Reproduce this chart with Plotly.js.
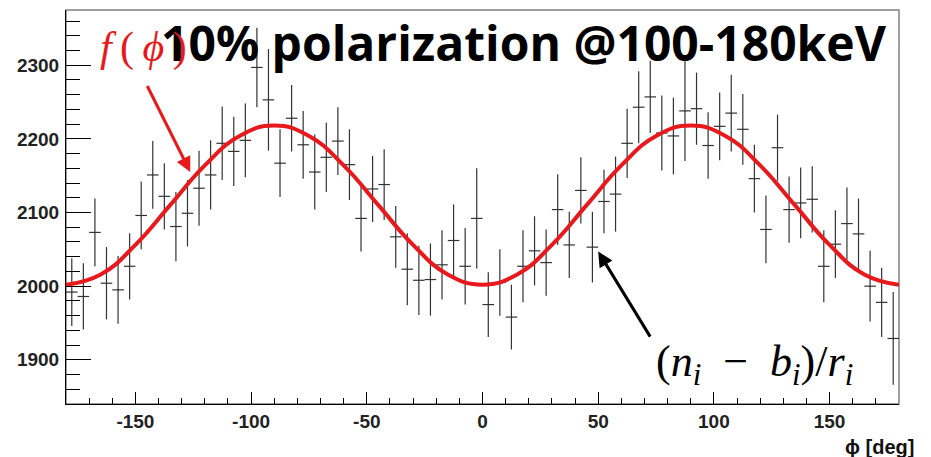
<!DOCTYPE html>
<html>
<head>
<meta charset="utf-8">
<script src="https://cdn.plot.ly/plotly-3.0.1.min.js"></script>
<style>
  html, body { margin: 0; padding: 0; background: #ffffff; }
  #chart { width: 931px; height: 457px; }
</style>
</head>
<body>
<div id="chart"></div>
<script>
// Azimuthal scattering angle, 5-degree bin centres
const phiBins = [
  -177.5, -172.5, -167.5, -162.5, -157.5, -152.5, -147.5, -142.5, -137.5, -132.5, -127.5, -122.5,
  -117.5, -112.5, -107.5, -102.5, -97.5, -92.5, -87.5, -82.5, -77.5, -72.5, -67.5, -62.5,
  -57.5, -52.5, -47.5, -42.5, -37.5, -32.5, -27.5, -22.5, -17.5, -12.5, -7.5, -2.5,
  2.5, 7.5, 12.5, 17.5, 22.5, 27.5, 32.5, 37.5, 42.5, 47.5, 52.5, 57.5,
  62.5, 67.5, 72.5, 77.5, 82.5, 87.5, 92.5, 97.5, 102.5, 107.5, 112.5, 117.5,
  122.5, 127.5, 132.5, 137.5, 142.5, 147.5, 152.5, 157.5, 162.5, 167.5, 172.5, 177.5
];

// Background-subtracted, response-corrected counts (n_i - b_i)/r_i
const correctedCounts = [
  1992, 1986, 2073, 2004, 1995, 2027, 2096, 2151, 2122, 2081, 2099, 2133,
  2151, 2194, 2183, 2198, 2297, 2253, 2167, 2228, 2192, 2155, 2175, 2197,
  2165, 2092, 2132, 2138, 2067, 2023, 2008, 2009, 2029, 2062, 2027, 2092,
  1975, 2005, 1958, 2027, 2048, 2032, 2104, 2056, 2130, 2053, 2115, 2125,
  2194, 2243, 2257, 2208, 2204, 2238, 2241, 2191, 2217, 2235, 2213, 2146,
  2077, 2188, 2104, 2113, 2118, 2027, 2057, 2085, 2071, 2000, 1978, 1929
];

// Statistical uncertainty per bin
const countErrors = [
  46, 45, 46, 49, 46, 45, 46, 46, 45, 47, 45, 51,
  47, 50, 47, 50, 54, 69, 46, 45, 46, 51, 47, 46,
  48, 45, 45, 48, 42, 49, 47, 49, 47, 49, 52, 68,
  44, 45, 44, 49, 47, 45, 48, 45, 45, 48, 43, 51,
  47, 49, 49, 51, 52, 68, 49, 45, 46, 52, 48, 46,
  46, 45, 45, 48, 45, 49, 46, 49, 48, 48, 47, 63
];

// Half of the 5-degree bin width
const binHalfWidth = 2.5;

// Fitted modulation curve f(phi), sampled every 15 degrees
const fitPhi = [
  -180, -165, -150, -135, -120, -105, -90, -75, -60, -45, -30, -15, 0,
  15, 30, 45, 60, 75, 90, 105, 120, 135, 150, 165, 180
];
const fitValues = [
  2002, 2016, 2056, 2110, 2164, 2204, 2218, 2204, 2164, 2110, 2056, 2016, 2002,
  2016, 2056, 2110, 2164, 2204, 2218, 2204, 2164, 2110, 2056, 2016, 2002
];

// Axis tick values and labels (plain hyphen for negatives)
const xTickVals = [-150, -100, -50, 0, 50, 100, 150];
const xTickText = ['-150', '-100', '-50', '0', '50', '100', '150'];
const yTickVals = [1900, 2000, 2100, 2200, 2300];
const yTickText = ['1900', '2000', '2100', '2200', '2300'];

const titleText = '10% polarization @100-180keV';
const xTitleText = '\u03D5 [deg]';

const tickFont = { family: 'Liberation Sans, Arial, sans-serif', size: 19, color: '#222222', weight: 700 };

const dataTrace = {
  type: 'scatter',
  mode: 'markers',
  x: phiBins,
  y: correctedCounts,
  marker: { size: 1, color: '#333333' },
  error_y: { type: 'data', array: countErrors, visible: true, width: 0, thickness: 1.2, color: '#333333' },
  error_x: { type: 'constant', value: binHalfWidth, visible: true, width: 0, thickness: 1.2, color: '#333333' },
  hoverinfo: 'x+y',
  showlegend: false
};

const fitTrace = {
  type: 'scatter',
  mode: 'lines',
  x: fitPhi,
  y: fitValues,
  line: { color: '#e8191c', width: 4, shape: 'spline', smoothing: 1.3 },
  showlegend: false
};

const layout = {
  width: 931,
  height: 457,
  margin: { l: 66, r: 32, t: 10, b: 53 },
  paper_bgcolor: '#ffffff',
  plot_bgcolor: '#ffffff',
  showlegend: false,
  xaxis: {
    range: [-180, 180],
    tickmode: 'array',
    tickvals: xTickVals,
    ticktext: xTickText,
    ticks: 'inside',
    ticklen: 12,
    tickwidth: 1,
    tickcolor: '#000000',
    showgrid: false,
    zeroline: false,
    showline: true,
    linecolor: '#000000',
    linewidth: 1,
    tickfont: tickFont,
    minor: { ticks: 'inside', ticklen: 6, dtick: 10, tick0: 0, tickcolor: '#000000', tickwidth: 1, showgrid: false }
  },
  yaxis: {
    range: [1840, 2375],
    tickmode: 'array',
    tickvals: yTickVals,
    ticktext: yTickText,
    ticks: 'inside',
    ticklen: 25,
    tickwidth: 1,
    tickcolor: '#000000',
    showgrid: false,
    zeroline: false,
    showline: true,
    linecolor: '#000000',
    linewidth: 1,
    tickfont: tickFont,
    ticklabelstandoff: 2,
    minor: { ticks: 'inside', ticklen: 14, dtick: 20, tick0: 1900, tickcolor: '#000000', tickwidth: 1, showgrid: false }
  },
  shapes: [
    { type: 'rect', xref: 'paper', yref: 'paper', x0: 0, x1: 1, y0: 0, y1: 1,
      line: { color: '#808080', width: 1.5 }, layer: 'below' }
  ],
  annotations: [
    { // chart title
      xref: 'paper', yref: 'paper', x: 0.55, y: 0.918, xanchor: 'center', yanchor: 'middle',
      text: '<b>' + titleText + '</b>', showarrow: false,
      font: { family: 'Open Sans, DejaVu Sans, sans-serif', size: 48, color: '#000000', weight: 800 }
    },
    { // x-axis label
      xref: 'paper', yref: 'paper', x: 1.02, y: -0.108, xanchor: 'right', yanchor: 'middle',
      text: '<b>' + xTitleText + '</b>', showarrow: false,
      font: { family: 'Liberation Sans, Arial, sans-serif', size: 20, color: '#111111' }
    },
    { // fit function label
      xref: 'x', yref: 'y', x: -146.6, y: 2324, xanchor: 'center', yanchor: 'middle',
      text: '<i>f</i>\u2009(\u2009<i>\u03D5</i>\u2009)', showarrow: false,
      font: { family: 'Liberation Serif, Times New Roman, serif', size: 42, color: '#e8191c' }
    },
    { // arrow towards the fit curve
      xref: 'x', yref: 'y', x: -126.3, y: 2155, ax: -46, ay: -92, axref: 'pixel', ayref: 'pixel',
      text: ' ', showarrow: true, arrowhead: 2, arrowsize: 1, arrowwidth: 3, arrowcolor: '#e8191c', standoff: 0
    },
    { // data-point label
      xref: 'x', yref: 'y', x: 117.4, y: 1893, xanchor: 'center', yanchor: 'middle',
      text: '(<i>n</i><sub><i>i</i></sub>\u2002\u2212\u2002<i>b</i><sub><i>i</i></sub>)/<i>r</i><sub><i>i</i></sub>', showarrow: false,
      font: { family: 'Liberation Serif, Times New Roman, serif', size: 44, color: '#000000' }
    },
    { // arrow towards a data point
      xref: 'x', yref: 'y', x: 50.0, y: 2047, ax: 55, ay: 90, axref: 'pixel', ayref: 'pixel',
      text: ' ', showarrow: true, arrowhead: 2, arrowsize: 1, arrowwidth: 3, arrowcolor: '#000000', standoff: 0
    }
  ]
};

Plotly.newPlot('chart', [dataTrace, fitTrace], layout, { displayModeBar: false, staticPlot: true });
</script>
</body>
</html>
